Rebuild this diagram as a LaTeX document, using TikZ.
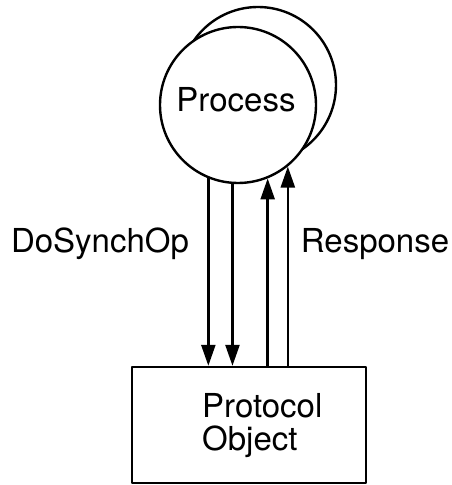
\documentclass[tikz,border=0pt]{standalone}
\usepackage{fontspec}
\setmainfont{TeX Gyre Heros}
\usetikzlibrary{arrows.meta}
\tikzset{
  proccircle/.style={circle,draw,fill=white,line width=2.4pt,minimum size=156pt,inner sep=0pt},
  objbox/.style={rectangle,draw,line width=2.4pt,minimum width=234pt,minimum height=116pt,inner sep=0pt},
  msg/.style={->,line width=2.4pt},
  every node/.style={font=\fontsize{33}{33}\selectfont}
}

\begin{document}
\begin{tikzpicture}[line cap=round,line join=round,>={Triangle[length=21pt,width=14pt]},x=1pt,y=1pt]
            \useasboundingbox (0,0) rectangle (451,485);
            % process (two circles, back one first)
            \node [proccircle] (procback) at (258,400) {};
            \node [proccircle] (proc) at (238,380) {};
            \node [inner sep=0pt] (proctext) at (236,385) {Process};
            % protocol object
            \node [objbox] (obj) at (249,60) {};
            \node [inner sep=0pt,anchor=west,align=left] (objtext) at (202,59) {Protocol\\Object};
            % messages
            \draw [msg] (proc.-112) -- (proc.-112 |- obj.north);
            \draw [msg] (proc.-94.4) -- (proc.-94.4 |- obj.north);
            \draw [msg] (proc.-68.2 |- obj.north) -- (proc.-68.2);
            \draw [msg] (proc.-51.1 |- obj.north) -- (proc.-51.1);
            \node (dosynch) at (100,241) {DoSynchOp};
            \node (resp) at (375,241) {Response};
\end{tikzpicture}
\end{document}
